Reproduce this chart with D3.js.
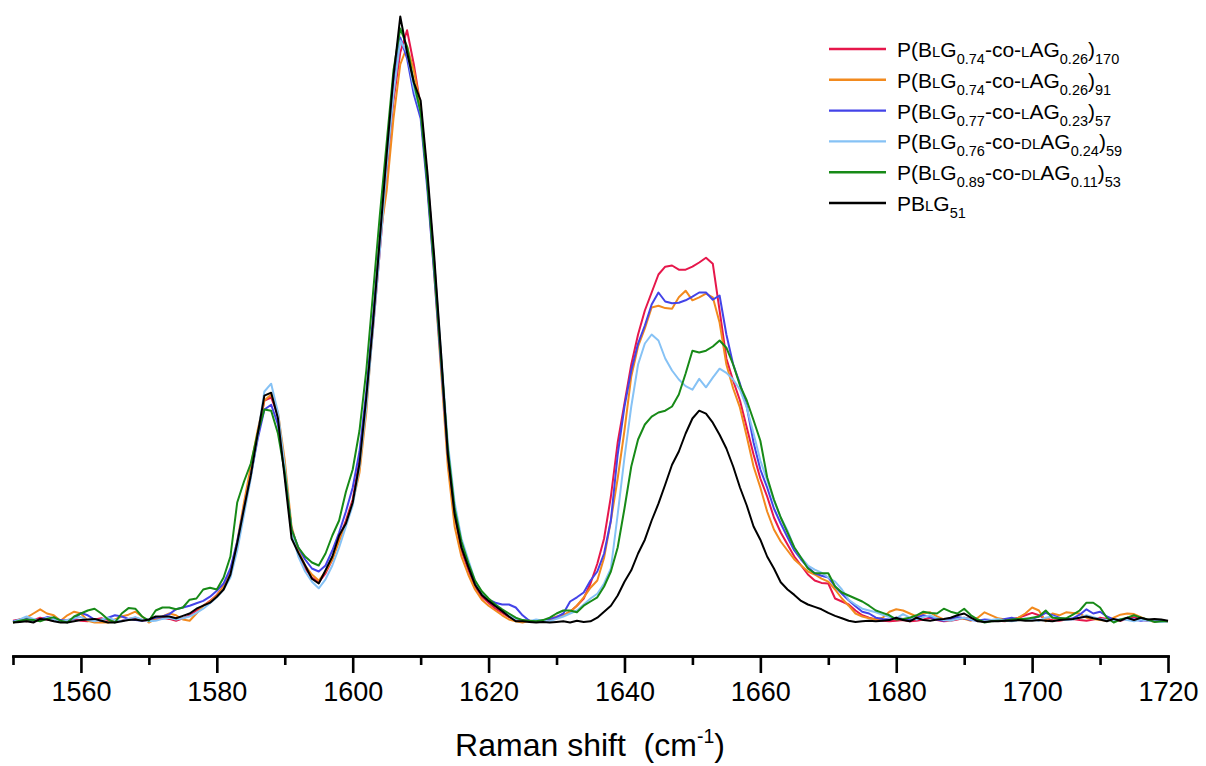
<!DOCTYPE html>
<html><head><meta charset="utf-8">
<script src="https://cdn.jsdelivr.net/npm/d3@7"></script>
<style>
html,body{margin:0;padding:0;background:#fff;}
svg{display:block;}
text{font-family:"Liberation Sans",Arial,Helvetica,sans-serif;fill:#000;}
</style></head>
<body>
<svg id="chart" width="1206" height="766"></svg>
<script>
// Raman shift from 1550 to 1720 cm-1 at 1 cm-1 steps
const wavenumbers = d3.range(1550, 1721, 1);
const majorTicks = [1560, 1580, 1600, 1620, 1640, 1660, 1680, 1700, 1720];
const minorTicks = [1550, 1570, 1590, 1610, 1630, 1650, 1670, 1690, 1710];
const xTitle = "Raman shift  (cm";
const xTitleSup = "-1";

// legend labels: {..} = small caps, _{..} = subscript
const seriesNames = [
  "P(B{L}G_{0.74}-co-{L}AG_{0.26})_{170}",
  "P(B{L}G_{0.74}-co-{L}AG_{0.26})_{91}",
  "P(B{L}G_{0.77}-co-{L}AG_{0.23})_{57}",
  "P(B{L}G_{0.76}-co-{DL}AG_{0.24})_{59}",
  "P(B{L}G_{0.89}-co-{DL}AG_{0.11})_{53}",
  "PB{L}G_{51}"
];
const seriesColors = ["#e6174b", "#f28a1e", "#4343e8", "#86c2f5", "#178a17", "#000000"];

// intensities (a.u.), 1550..1720
const red = [
 0.3,0.5,0.2,0.4,0.8,0.5,0.3,0.2,0.4,0.6, 0.3,0.2,0.5,0.7,0.4,0.2,0.3,0.6,0.8,0.4, 0.2,0.5,0.8,0.6,0.3,0.7,1.2,2,2.8,3.6, 4.6,
 6,8.5,13,19,24.5,31,37,37.5,34.5,25, 15,11.5,9,7.5,6.7,8.2,10.5,14,17,20.5,
 27,37,49,62,75,87,95,98.7,93,86, 74,60,44,28,18,12,8.8,6,4.3,3.3,
 2.3,1.6,0.9,0.4,0.2,0.3,0.1,0.2,0.4,0.8, 1.2,1.8,2.8,4,6.5,
 9.8,14,21,30,36.5,43,48,52,55,58, 59.3,59.5,58.8,58.8,59.3,60,60.8,59.8,52,44, 40.3,37,32.5,28,24,21,17.5,15,13,11,
 9.5,8,7,6.6,6.5,4,3.5,3,2,1.2, 0.8,0.5,0.3,0.2,0.3,
 0.4,0.2,0.3,0.5,0.8,0.4,0.2,0.3,0.5,0.8, 0.6,0.3,0.2,0.4,0.3,0.2,0.5,0.8,1.2,1.6, 1.2,0.6,0.4,0.3,0.5,0.6,0.4,0.3,0.5,0.8, 0.6,0.4,0.3,0.6,0.9,0.5,0.3,0.2,0.3,0.2
];
const orange = [
 0,0.5,0.8,1.5,2.2,1.5,1.2,0.3,1.2,1.8, 1.5,0.3,0,0,0,0.5,1,1.3,1.8,1, 0,0.6,1,1.5,1.2,0.5,0.3,1.5,2.8,3.5, 4.5,
 6,8.5,13.5,20,26,32,37,38,35,27, 16,12,9.5,8,7,8.5,10.5,13.5,16.5,20,
 25,35,50,64,72,84,93,96,92,86, 73,58,42,26,16,11,8,5.5,3.8,2.8,
 2,1.2,0.5,0.2,0,0.3,0.1,0.3,0.6,1, 1.2,1.8,2.8,4.2,5.8,
 7,10.8,17,24,32,41,46,49,52.5,52.8, 52.4,52.3,54.2,55.3,53.7,54.2,54.8,54.2,50,43, 39,35.8,31,26,22.5,18.5,15.5,13.5,12,10.5,
 9.5,8.5,8,7.3,6.8,5.5,4,2.8,1.5,1, 0.7,0.5,0.8,1.8,2.2,
 2,1.5,1,1.5,1.7,1,0.5,0.3,0.8,0.6, 0.3,0.8,1.7,1.2,0.7,0.5,0.3,0.8,1.5,2.5, 2,0.2,1.5,1.2,1.7,1.6,1.5,0.8,0.6,0.4, 0.3,0.8,1.3,1.5,1.4,0.9,0.4,0.1,0.3,0.2
];
const blue = [
 0.2,0.4,0.6,0.3,0.5,0.9,0.7,0.4,0.3,0.6, 1.6,1.2,0.5,0.3,0.8,1.2,1,0.6,0.4,0.3, 0.5,0.8,1,1.4,2.2,2.5,2.8,3.2,3.6,4.3, 5.3,
 6.5,9,13.5,19,24.5,30.5,35.5,36.3,33,25, 15.5,12.5,10.5,9,8.5,9.5,12,15,18.5,22.5,
 28.5,38.5,51,64,77,89,97.5,94,88,84, 72,58,43,28,18.5,13,9.5,6.5,4.8,3.8,
 3.3,3,3,2.5,1.2,0.3,0.2,0.3,0.6,0.9, 1.5,3.5,4.2,5,7,
 8.5,11.5,17,28,36,42,46.5,49.5,53,55, 53.5,53.2,53.3,53.7,54.3,55,55,53.8,54.5,48, 43,39.8,36,30,25.5,22.5,19,16.5,14.2,12,
 10.5,9.2,8.2,7.8,7.5,6,4.8,3.7,2.7,1.8, 1.5,0.8,0.6,0.5,0.8,
 0.6,0.4,0.8,1.2,0.9,0.5,0.3,0.6,0.9,0.7, 0.4,0.3,0.5,0.4,0.3,0.6,0.8,0.5,0.4,0.6, 1,1.6,1.2,0.8,0.5,0.7,1.3,2.2,1.5,1.8, 1,0.5,0.4,0.7,0.5,0.3,0.4,0.2,0.3,0.2
];
const lightBlue = [
 0.1,0.5,1,0.6,0.3,0.8,0.5,0.2,0.4,0.7, 0.9,0.4,0.2,0.5,0.8,0.4,0.2,0.6,0.9,0.5, 0.2,0.3,0.6,0.8,0.5,0.7,1,1.6,2.3,3.2, 4.2,
 5.5,7.5,12,18,24,31,38.5,39.8,35,26, 15,11,8.5,6.8,5.7,7.2,9.5,12.5,16,19.5,
 26,36,49,62,76,88,97,95,89,85, 74,60,45,30,20,14,10.5,7,5,3.8,
 2.8,2,1.2,0.6,0.4,0.2,0.5,0.3,0.2,0.6, 1,1.5,2,3,4,
 4.8,6.5,9,18,27.5,36,43,46.5,48,47, 44,42,40.5,39.4,38.8,40.6,39.2,40.8,42.3,41.6, 40.5,38.8,35.8,31.5,27,23.7,20.3,17.5,15.3,12.5,
 10.8,9.5,8.8,8.3,7.5,6.8,5.5,3.8,3,2.3, 2,1.7,1.3,0.9,0.7,
 1.4,0.8,0.5,0.9,1.2,0.7,0.4,0.3,0.6,0.8, 0.5,0.3,0.2,0.4,0.6,0.3,0.2,0.4,0.7,0.5, 0.3,0.8,1,0.6,0.4,0.5,0.8,1.2,0.9,0.6, 0.4,0.3,0.6,0.4,0.2,0.5,0.3,0.2,0.1,0.2
];
const green = [
 0,0.3,0.5,0.4,0.2,0.6,0.9,0.3,0,1, 1.5,2,2.3,1.5,0.5,0,1.5,2.4,2.3,1, 0.3,2,2.5,2.5,2.2,2.5,3.8,4,5.5,5.8, 5.5,
 7.5,11,20,23.5,26.5,31.5,35.5,35.3,31.5,25, 15.5,12.5,11,10,9.5,11.5,14.5,17,21.8,25.5,
 32,42,55,68,80,92,99,96,90,85, 73,59,44,29,19,13.5,10,7,5.2,4,
 3,2.2,1.5,0.8,0.4,0.3,0.2,0.4,0.8,1.5, 2,2,1.7,2.8,3.5,
 4.2,6,8.5,12.5,19,26,30.5,33,34.3,35, 35.3,36,38,41.5,45.3,45,45.3,46,47,45.8, 43,39.5,37,33.7,30.3,24.2,20.5,17.5,15,12.5,
 10.8,9,8.2,8.2,8.2,6,5,4.5,4,3.5, 2.8,2,1.6,1.2,0.5,
 0.6,0.8,1.2,1.8,1.6,1.5,2.3,1.8,1.5,2.3, 1.2,0.5,0,0.2,0.3,0.3,0.5,0.6,0.6,0.8, 1,2,0.8,0.7,0.7,1.3,2,3.3,3.3,2.5, 0.8,0,0.5,0.8,1.2,0.8,0.5,0.1,0.2,0.2
];
const black = [
 0,0.1,0.2,0,0.6,0.5,0.2,0,0,0.2, 0.4,0.5,0.6,0.3,0,0,0.2,0.4,0.5,0.3, 0.5,1,1,1,0.7,1.1,1.5,2.3,2.8,3.3, 4.3,
 5.5,8,13.2,19,24.5,31.3,37.8,38.3,34,24, 14,11.6,9.5,7.3,6.5,8.7,11,14.5,16.5,20,
 26.5,37.5,50,64,78,91,101,95,90,87, 75,61,45,28,18,12.5,9.3,6.3,4.6,3.6,
 2.7,1.9,1,0.2,0.2,0.1,0,0.1,0,0.1, 0.2,0,0.3,0.1,0.2,
 0.8,1.8,2.8,4.5,6.8,8.7,11.5,13.8,17,19.8, 23,26.3,28.5,31.5,34,35.3,34.8,33.3,31.3,29, 26,22.5,19.5,16,13.8,11,9,6.7,5.5,4.6,
 3.6,3,2.6,2.2,1.6,1.1,0.7,0.3,0.1,0.2, 0.3,0.2,0.3,0.4,0.8,
 0.4,0.2,0.8,0.4,0.3,0.5,0.6,0.8,1.2,1.5, 0.8,0.2,0.1,0.2,0.2,0.3,0.3,0.4,0.3,0.3, 0.4,0.3,0.2,0.4,0.5,0.6,0.8,1,0.7,0.5, 0.2,0.6,0.3,0.8,0.4,0.8,0.5,0.6,0.5,0.3
];
const seriesValues = [red, orange, blue, lightBlue, green, black];

const svg = d3.select("#chart");
const x = d3.scaleLinear().domain([1550, 1720]).range([13, 1168]);
const y = d3.scaleLinear().domain([0, 100]).range([622.5, 22.5]);
const axisY = 656;

// curves
const line = d3.line().x(d => x(d[0])).y(d => y(d[1]));
seriesValues.forEach((vals, i) => {
  const pts = wavenumbers.map((w, j) => [w, vals[j]]).filter(p => p[1] !== undefined);
  svg.append("path")
    .attr("d", line(pts))
    .attr("fill", "none")
    .attr("stroke", seriesColors[i])
    .attr("stroke-width", 2)
    .attr("stroke-linejoin", "round");
});

// axis
const gMinor = svg.append("g").attr("transform", `translate(0,${axisY})`)
  .call(d3.axisBottom(x).tickValues(minorTicks).tickSize(9).tickSizeOuter(0).tickFormat(""));
const gMajor = svg.append("g").attr("transform", `translate(0,${axisY})`)
  .call(d3.axisBottom(x).tickValues(majorTicks).tickSize(17).tickSizeOuter(0).tickFormat(d3.format("d")).tickPadding(9));
[gMinor, gMajor].forEach(g => {
  g.selectAll("path,line").attr("stroke", "#000").attr("stroke-width", 2.6);
  g.select(".domain").attr("stroke-linecap", "square");
});
gMajor.selectAll("text").attr("font-size", 27).attr("font-family", '"Liberation Sans",Arial,sans-serif').attr("fill", "#000");

// axis title
const tt = svg.append("text").attr("x", 590).attr("y", 756).attr("text-anchor", "middle")
  .attr("font-size", 32).style("white-space", "pre");
tt.append("tspan").text(xTitle);
tt.append("tspan").attr("font-size", 19.5).attr("dy", -13).text(xTitleSup);
tt.append("tspan").attr("dy", 13).text(")");

// legend
function parseLabel(s) {
  const parts = [];
  let i = 0, buf = "";
  while (i < s.length) {
    if (s[i] === "_" && s[i + 1] === "{") {
      if (buf) { parts.push({t: buf, k: "n"}); buf = ""; }
      const e = s.indexOf("}", i);
      parts.push({t: s.slice(i + 2, e), k: "sub"}); i = e + 1;
    } else if (s[i] === "{") {
      if (buf) { parts.push({t: buf, k: "n"}); buf = ""; }
      const e = s.indexOf("}", i);
      parts.push({t: s.slice(i + 1, e), k: "sc"}); i = e + 1;
    } else { buf += s[i]; i++; }
  }
  if (buf) parts.push({t: buf, k: "n"});
  return parts;
}
const legend = svg.append("g");
seriesNames.forEach((name, i) => {
  const ly = 49 + i * 30.8;
  legend.append("line").attr("x1", 829).attr("x2", 886).attr("y1", ly).attr("y2", ly)
    .attr("stroke", seriesColors[i]).attr("stroke-width", 2.4);
  const t = legend.append("text").attr("x", 897).attr("y", ly + 8).attr("font-size", 21);
  let cur = 0;
  parseLabel(name).forEach(p => {
    const ts = t.append("tspan").text(p.t);
    let target = 0;
    if (p.k === "sub") { ts.attr("font-size", 14.5); target = 7; }
    else if (p.k === "sc") { ts.attr("font-size", 15); }
    ts.attr("dy", target - cur);
    cur = target;
  });
});
</script>
</body></html>
